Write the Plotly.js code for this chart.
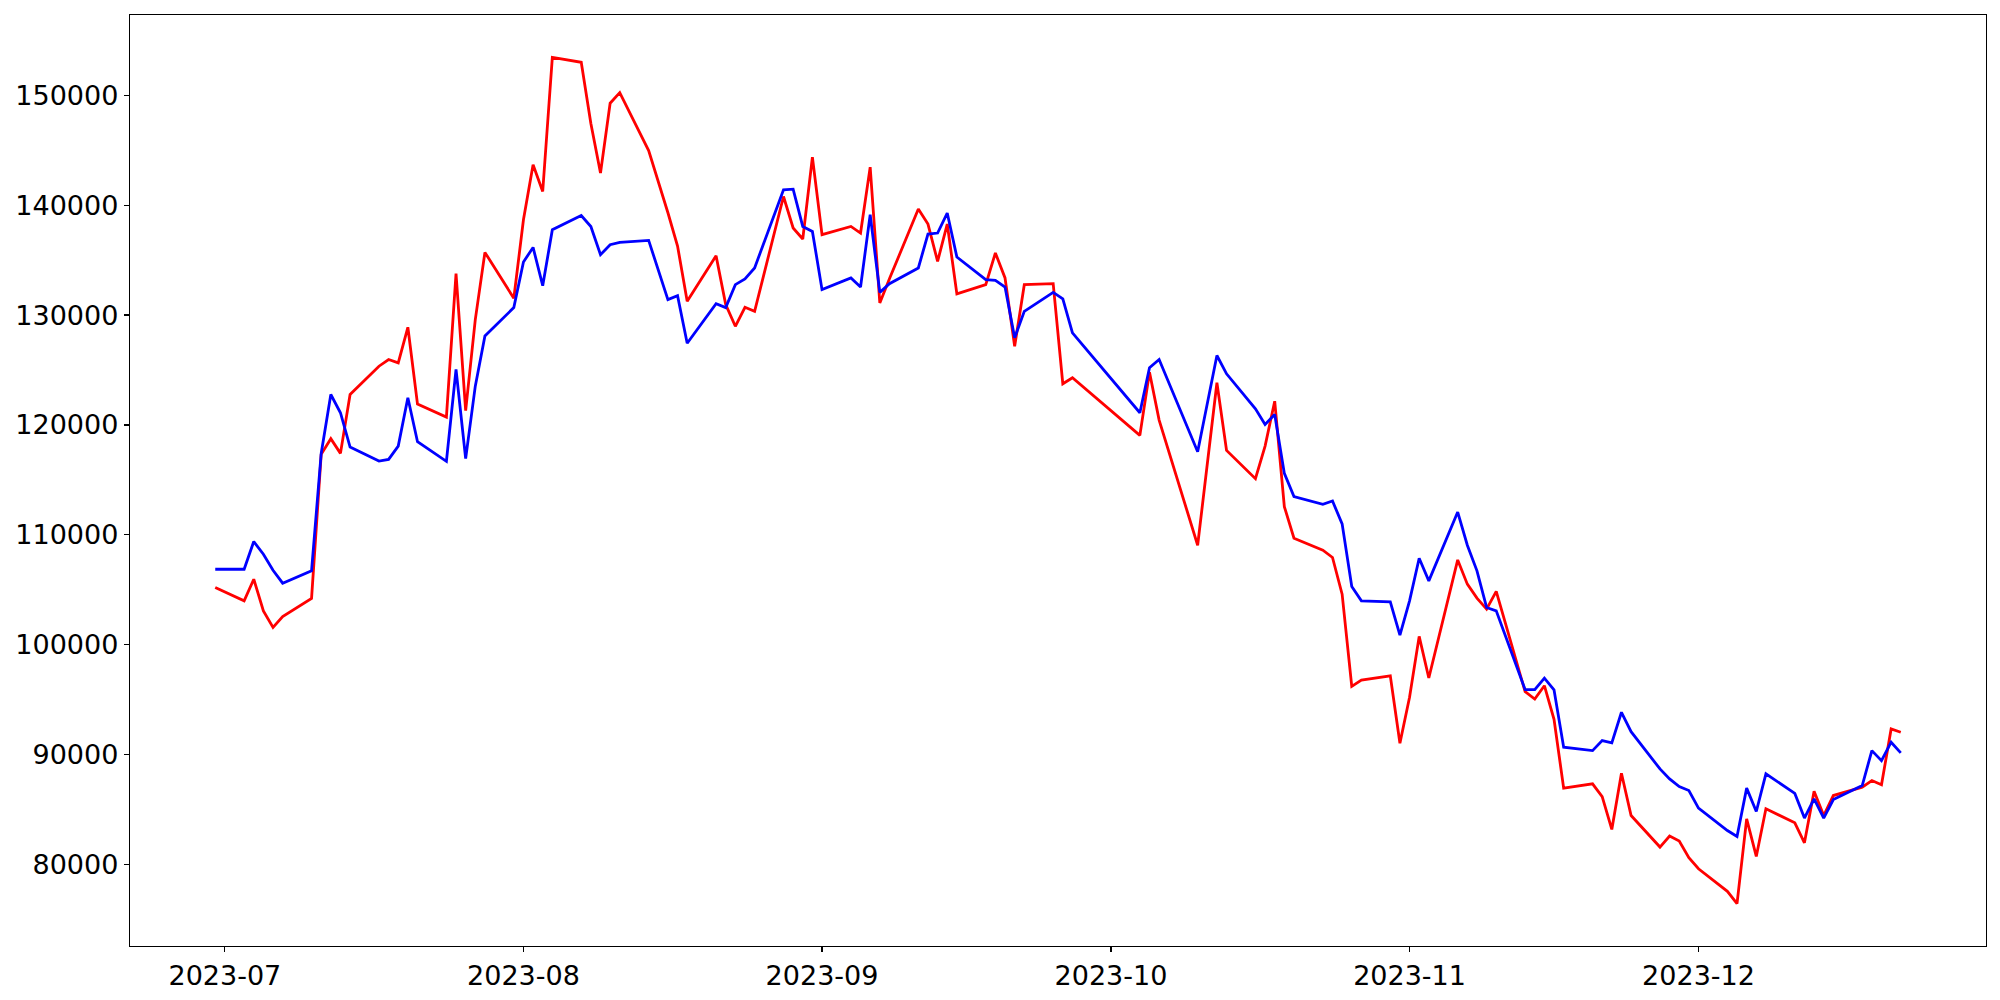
<!DOCTYPE html>
<html>
<head>
<meta charset="utf-8">
<script src="https://cdn.plot.ly/plotly-3.0.1.min.js"></script>
<style>html,body{margin:0;padding:0;background:#fff;}#chart{width:2000px;height:1000px;}</style>
</head>
<body>
<div id="chart"></div>
<script>
const dates = [
  "2023-06-30","2023-07-03","2023-07-04","2023-07-05","2023-07-06","2023-07-07",
  "2023-07-10","2023-07-11","2023-07-12","2023-07-13","2023-07-14",
  "2023-07-17","2023-07-18","2023-07-19","2023-07-20","2023-07-21",
  "2023-07-24","2023-07-25","2023-07-26","2023-07-27","2023-07-28",
  "2023-07-31","2023-08-01","2023-08-02","2023-08-03","2023-08-04",
  "2023-08-07","2023-08-08","2023-08-09","2023-08-10","2023-08-11",
  "2023-08-14","2023-08-16","2023-08-17","2023-08-18",
  "2023-08-21","2023-08-22","2023-08-23","2023-08-24","2023-08-25",
  "2023-08-28","2023-08-29","2023-08-30","2023-08-31","2023-09-01",
  "2023-09-04","2023-09-05","2023-09-06","2023-09-07","2023-09-08",
  "2023-09-11","2023-09-12","2023-09-13","2023-09-14","2023-09-15",
  "2023-09-18","2023-09-19","2023-09-20","2023-09-21","2023-09-22",
  "2023-09-25","2023-09-26","2023-09-27",
  "2023-10-04","2023-10-05","2023-10-06",
  "2023-10-10","2023-10-12","2023-10-13",
  "2023-10-16","2023-10-17","2023-10-18","2023-10-19","2023-10-20",
  "2023-10-23","2023-10-24","2023-10-25","2023-10-26","2023-10-27",
  "2023-10-30","2023-10-31","2023-11-01","2023-11-02","2023-11-03",
  "2023-11-06","2023-11-07","2023-11-08","2023-11-09","2023-11-10",
  "2023-11-13","2023-11-14","2023-11-15","2023-11-16","2023-11-17",
  "2023-11-20","2023-11-21","2023-11-22","2023-11-23","2023-11-24",
  "2023-11-27","2023-11-28","2023-11-29","2023-11-30","2023-12-01",
  "2023-12-04","2023-12-05","2023-12-06","2023-12-07","2023-12-08",
  "2023-12-11","2023-12-12","2023-12-13","2023-12-14","2023-12-15",
  "2023-12-18","2023-12-19","2023-12-20","2023-12-21","2023-12-22"
];

const redValues = [
  105200,103980,105950,103070,101560,102560,
  104200,117320,118745,117410,122770,
  125345,125955,125650,128890,121900,
  120710,133770,121300,129590,135710,
  131530,138680,143680,141255,153470,
  153020,147440,142930,149290,150255,
  144980,139320,136290,131255,
  135410,130955,128980,130710,130345,
  140800,137930,136930,144380,137320,
  138070,137470,143470,131110,133300,
  139655,138290,134890,138290,131930,
  132770,135655,133380,127160,132770,
  132860,123745,124290,
  119045,124800,120440,
  109045,123840,117680,
  115110,118070,122160,112560,109680,
  108590,107930,104590,96200,96770,
  97160,91020,95200,100745,96955,
  107710,105500,104230,103230,104840,
  95710,95045,96255,93200,86930,
  87320,86165,83165,88290,84435,
  81565,82565,82110,80590,79590,
  77530,76410,84135,80710,85045,
  83775,81955,86655,84435,86255,
  87020,87620,87230,92320,92020
];

const blueValues = [
  106860,106860,109380,108230,106770,105590,
  106710,117400,122770,121110,117980,
  116710,116860,118070,122470,118470,
  116680,125045,116930,123530,128100,
  130680,134840,136160,132680,137770,
  139070,138070,135500,136410,136620,
  136800,131410,131770,127440,
  131045,130680,132770,133290,134290,
  141410,141470,138070,137620,132320,
  133380,132560,139140,132070,132860,
  134290,137380,137470,139290,135290,
  133230,133160,132560,127930,130345,
  132070,131470,128380,
  121110,125200,125955,
  117560,126320,124655,
  121470,120045,120955,115590,113470,
  112770,113070,110990,105290,103980,
  103890,100860,103980,107860,105800,
  112070,109045,106710,103380,103070,
  95890,95890,96940,95880,90655,
  90345,91255,91045,93835,92070,
  88680,87770,87070,86710,85110,
  83070,82530,86930,84800,88230,
  86450,84200,85955,84200,85890,
  87165,90345,89435,91110,90135
];

const tickDates = ["2023-07-01","2023-08-01","2023-09-01","2023-10-01","2023-11-01","2023-12-01"];
const tickLabels = ["2023-07","2023-08","2023-09","2023-10","2023-11","2023-12"];
const yTicks = [80000,90000,100000,110000,120000,130000,140000,150000];
const yTickLabels = ["80000","90000","100000","110000","120000","130000","140000","150000"];

const traces = [
  {x: dates, y: redValues, type: "scatter", mode: "lines", name: "red",
   line: {color: "#ff0000", width: 2.8}, hoverinfo: "x+y"},
  {x: dates, y: blueValues, type: "scatter", mode: "lines", name: "blue",
   line: {color: "#0000ff", width: 2.8}, hoverinfo: "x+y"}
];

const axisCommon = {
  showline: true, mirror: true, linecolor: "#000", linewidth: 1.2,
  showgrid: false, zeroline: false,
  ticks: "outside", ticklen: 5, tickwidth: 1.2, tickcolor: "#000",
  tickfont: {family: "DejaVu Sans", size: 27, color: "#000"}
};

const layout = {
  width: 2000, height: 1000,
  margin: {l: 130, r: 14, t: 15, b: 54},
  paper_bgcolor: "#fff", plot_bgcolor: "#fff",
  showlegend: false,
  xaxis: Object.assign({}, axisCommon, {
    type: "date",
    range: ["2023-06-21 03:36", "2023-12-30 20:24"],
    tickmode: "array", tickvals: tickDates, ticktext: tickLabels
  }),
  yaxis: Object.assign({}, axisCommon, {
    range: [72556, 157323],
    tickmode: "array", tickvals: yTicks, ticktext: yTickLabels
  })
};

Plotly.newPlot("chart", traces, layout, {staticPlot: true, displayModeBar: false});
</script>
</body>
</html>
